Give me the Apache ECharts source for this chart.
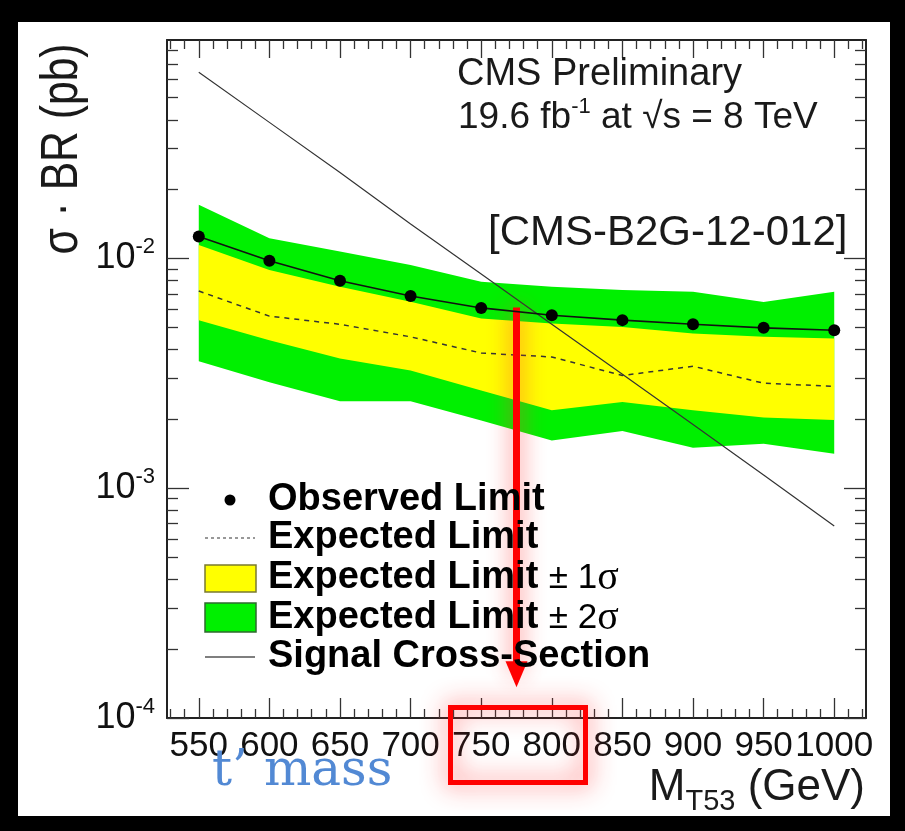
<!DOCTYPE html>
<html><head><meta charset="utf-8">
<script src="https://cdn.jsdelivr.net/npm/echarts@6/dist/echarts.min.js"></script>
<style>
html,body{margin:0;padding:0;background:#000;}
#chart{width:905px;height:831px;position:relative;background:#fff;
box-shadow: inset 18px 22px 0 0 #000, inset -15px -15px 0 0 #000;}
</style></head><body><div id="chart"></div>
<script>
// ---- data ----
const masses   = [550, 600, 650, 700, 750, 800, 850, 900, 950, 1000];
const observed = [0.01242, 0.00976, 0.00798, 0.00685, 0.00608, 0.00565, 0.00538, 0.00516, 0.00498, 0.00486];
const expected = [0.0072, 0.0056, 0.00516, 0.00455, 0.00387, 0.00372, 0.00309, 0.00339, 0.00286, 0.00277];
const plus1    = [0.01143, 0.00889, 0.00752, 0.00646, 0.00547, 0.0052, 0.00502, 0.0047, 0.00455, 0.00448];
const minus1   = [0.00538, 0.0044, 0.00366, 0.00325, 0.00266, 0.00218, 0.00237, 0.00218, 0.00203, 0.00198];
const plus2    = [0.0171, 0.01223, 0.01069, 0.00935, 0.00791, 0.00751, 0.00727, 0.00715, 0.00645, 0.00715];
const minus2   = [0.00356, 0.00289, 0.00239, 0.00239, 0.00197, 0.00161, 0.00177, 0.0015, 0.00156, 0.00141];
const signal   = [0.0644, 0.0390, 0.0236, 0.0141, 0.00854, 0.00516, 0.00313, 0.00189, 0.00114, 0.000684];

// axis ticks / labels
const xMin = 527.5, xMax = 1022.5;
const xMajor = [550, 600, 650, 700, 750, 800, 850, 900, 950, 1000];
const xMinor = [530, 540, 560, 570, 580, 590, 610, 620, 630, 640, 660, 670, 680, 690, 710, 720, 730, 740,
                760, 770, 780, 790, 810, 820, 830, 840, 860, 870, 880, 890, 910, 920, 930, 940, 960, 970, 980, 990, 1010, 1020];
const yMin = 1e-4, yMax = 0.089;
const yMajor = [1e-4, 1e-3, 1e-2];
const yMinor = [2e-4, 3e-4, 4e-4, 5e-4, 6e-4, 7e-4, 8e-4, 9e-4,
                2e-3, 3e-3, 4e-3, 5e-3, 6e-3, 7e-3, 8e-3, 9e-3,
                2e-2, 3e-2, 4e-2, 5e-2, 6e-2, 7e-2, 8e-2];

// annotation arrow (data coords)
const arrowMass = 775, arrowTop = 0.0061, arrowBottom = 1.55e-4;

const FONT = '"Liberation Sans", Arial, Helvetica, sans-serif';
const FRAME = '#222';

function xAx(pos, showLine, ticks, len, labels) {
  return {
    type: 'value', min: xMin, max: xMax, position: pos, gridIndex: 0,
    splitLine: {show: false},
    axisLine: {show: showLine, onZero: false, lineStyle: {color: FRAME, width: 2}},
    axisTick: {show: true, inside: true, length: len, customValues: ticks, lineStyle: {color: '#333', width: 1.3}},
    axisLabel: labels ? {show: true, customValues: xMajor, interval: 0, hideOverlap: false, showMinLabel: true, showMaxLabel: true,
                         formatter: v => String(Math.round(v)),
                         fontSize: 35, color: '#111', margin: 11, fontFamily: FONT} : {show: false}
  };
}
function yAx(pos, showLine, ticks, len, labels) {
  return {
    type: 'log', logBase: 10, min: yMin, max: yMax, position: pos, gridIndex: 0,
    splitLine: {show: false},
    axisLine: {show: showLine, onZero: false, lineStyle: {color: FRAME, width: 2}},
    axisTick: {show: true, inside: true, length: len, customValues: ticks, lineStyle: {color: '#333', width: 1.3}},
    axisLabel: labels ? {
      show: true, customValues: yMajor, margin: 12, hideOverlap: false,
      formatter: v => '{b|10}{s|' + Math.round(Math.log10(v)) + '}',
      rich: {
        b: {fontSize: 36, fontFamily: FONT, color: '#111', lineHeight: 44},
        s: {fontSize: 22, fontFamily: FONT, color: '#111', verticalAlign: 'top', lineHeight: 22}
      }
    } : {show: false}
  };
}

function bandRender(upper, lower, color) {
  return function (params, api) {
    const pts = [];
    for (let i = 0; i < masses.length; i++) pts.push(api.coord([masses[i], upper[i]]));
    for (let i = masses.length - 1; i >= 0; i--) pts.push(api.coord([masses[i], lower[i]]));
    return {type: 'polygon', shape: {points: pts}, style: {fill: color, stroke: null}};
  };
}

const chart = echarts.init(document.getElementById('chart'), null, {renderer: 'canvas'});

const legX = 205, legTextX = 268;
const legRows = [500, 538, 578, 618, 657];
const LEGF = 38;

const option = {
  animation: false,
  grid: {left: 167, right: 39, top: 40, bottom: 113, containLabel: false, outerBoundsMode: 'none'},
  xAxis: [
    xAx('bottom', true, xMajor, 20, true),
    xAx('bottom', false, xMinor, 9, false),
    xAx('top', true, xMajor, 18, false),
    xAx('top', false, xMinor, 9, false)
  ],
  yAxis: [
    yAx('left', true, yMajor, 22, true),
    yAx('left', false, yMinor, 11, false),
    yAx('right', true, yMajor, 22, false),
    yAx('right', false, yMinor, 11, false)
  ],
  series: [
    {type: 'custom', name: 'Expected Limit ± 2σ', xAxisIndex: 0, yAxisIndex: 0, z: 1,
     renderItem: bandRender(plus2, minus2, '#00f000'), data: [[masses[0], plus2[0]]], silent: true},
    {type: 'custom', name: 'Expected Limit ± 1σ', xAxisIndex: 0, yAxisIndex: 0, z: 2,
     renderItem: bandRender(plus1, minus1, '#ffff00'), data: [[masses[0], plus1[0]]], silent: true},
    {type: 'line', name: 'Expected Limit', xAxisIndex: 0, yAxisIndex: 0, z: 3,
     data: masses.map((m, i) => [m, expected[i]]), showSymbol: false, symbol: 'none',
     lineStyle: {color: '#333', width: 1.5, type: [5, 5]}},
    {type: 'line', name: 'Signal Cross-Section', xAxisIndex: 0, yAxisIndex: 0, z: 4,
     data: masses.map((m, i) => [m, signal[i]]), symbol: 'none',
     lineStyle: {color: '#333', width: 1.2}},
    {type: 'line', name: 'Observed Limit', xAxisIndex: 0, yAxisIndex: 0, z: 5,
     data: masses.map((m, i) => [m, observed[i]]), symbol: 'circle', symbolSize: 12,
     itemStyle: {color: '#000'}, lineStyle: {color: '#111', width: 1.6},
     markLine: {
       silent: true, symbol: ['none', 'triangle'], symbolSize: [22, 26], animation: false,
       label: {show: false},
       lineStyle: {color: '#ff0000', width: 7, type: 'solid', shadowBlur: 22, shadowColor: 'rgba(255,60,60,0.85)'},
       emphasis: {disabled: true},
       data: [[{coord: [arrowMass, arrowTop]}, {coord: [arrowMass, arrowBottom]}]]
     }}
  ],
  graphic: [
    // titles
    {type: 'text', x: 457, y: 75, z: 50, style: {text: 'CMS Preliminary', fontSize: 38, fontFamily: FONT, fill: '#1a1a1a', align: 'left', verticalAlign: 'middle'}},
    {type: 'text', x: 458, y: 118, z: 50, style: {
      text: '{a|19.6 fb}{s|-1}{a| at √s = 8 TeV}', align: 'left', verticalAlign: 'middle',
      rich: {a: {fontSize: 37, fontFamily: FONT, fill: '#1a1a1a', lineHeight: 44},
             s: {fontSize: 22, fontFamily: FONT, fill: '#1a1a1a', verticalAlign: 'top', lineHeight: 22}}}},
    {type: 'text', x: 488, y: 233, z: 50, style: {text: '[CMS-B2G-12-012]', fontSize: 42, fontFamily: FONT, fill: '#1a1a1a', align: 'left', verticalAlign: 'middle'}},
    // y axis title
    {type: 'text', x: 63, y: 149, rotation: Math.PI / 2, scaleX: 0.82, z: 50, style: {
      text: 'σ · BR (pb)', fontSize: 52, fontFamily: FONT, fill: '#1a1a1a', align: 'center', verticalAlign: 'middle'}},
    // x axis title
    {type: 'text', x: 865, y: 788, z: 50, style: {
      text: '{m|M}{sub|T53}{g| (GeV)}', align: 'right', verticalAlign: 'middle',
      rich: {m: {fontSize: 44, fontFamily: FONT, fill: '#1a1a1a', lineHeight: 56},
             sub: {fontSize: 29, fontFamily: FONT, fill: '#1a1a1a', verticalAlign: 'bottom', lineHeight: 29},
             g: {fontSize: 44, fontFamily: FONT, fill: '#1a1a1a', lineHeight: 56}}}},
    // t' mass
    {type: 'text', x: 212, y: 772, z: 50, style: {text: 't’ mass', fontSize: 50, fontFamily: '"DejaVu Serif", "Liberation Serif", serif', fill: '#5289d4', align: 'left', verticalAlign: 'middle'}},
    // legend
    {type: 'circle', z: 50, shape: {cx: 230, cy: legRows[0], r: 5.5}, style: {fill: '#000'}},
    {type: 'line', z: 50, shape: {x1: legX, y1: legRows[1], x2: legX + 50, y2: legRows[1]}, style: {stroke: '#333', lineWidth: 1.2, lineDash: [3, 3]}},
    {type: 'rect', z: 50, shape: {x: legX, y: 565, width: 51, height: 27}, style: {fill: '#ffff00', stroke: '#7a7a30', lineWidth: 1.5}},
    {type: 'rect', z: 50, shape: {x: legX, y: 603, width: 51, height: 29}, style: {fill: '#00f000', stroke: '#2f6a2f', lineWidth: 1.5}},
    {type: 'line', z: 50, shape: {x1: legX, y1: legRows[4], x2: legX + 50, y2: legRows[4]}, style: {stroke: '#555', lineWidth: 1.5}},
    {type: 'text', x: legTextX, y: legRows[0], z: 50, style: {text: 'Observed Limit', fontSize: LEGF, fontWeight: 'bold', fontFamily: FONT, fill: '#000', align: 'left', verticalAlign: 'middle'}},
    {type: 'text', x: legTextX, y: legRows[1], z: 50, style: {text: 'Expected Limit', fontSize: LEGF, fontWeight: 'bold', fontFamily: FONT, fill: '#000', align: 'left', verticalAlign: 'middle'}},
    {type: 'text', x: legTextX, y: legRows[2], z: 50, style: {
      text: '{b|Expected Limit }{n|± 1}{g|σ}', align: 'left', verticalAlign: 'middle',
      rich: {b: {fontSize: LEGF, fontWeight: 'bold', fontFamily: FONT, fill: '#000'},
             n: {fontSize: 35, fontFamily: FONT, fill: '#000'},
             g: {fontSize: 40, fontFamily: '"Liberation Serif", serif', fill: '#000'}}}},
    {type: 'text', x: legTextX, y: legRows[3], z: 50, style: {
      text: '{b|Expected Limit }{n|± 2}{g|σ}', align: 'left', verticalAlign: 'middle',
      rich: {b: {fontSize: LEGF, fontWeight: 'bold', fontFamily: FONT, fill: '#000'},
             n: {fontSize: 35, fontFamily: FONT, fill: '#000'},
             g: {fontSize: 40, fontFamily: '"Liberation Serif", serif', fill: '#000'}}}},
    {type: 'text', x: legTextX, y: legRows[4], z: 50, style: {text: 'Signal Cross-Section', fontSize: LEGF, fontWeight: 'bold', fontFamily: FONT, fill: '#000', align: 'left', verticalAlign: 'middle'}},
    // red highlight box
    {type: 'rect', z: 60, shape: {x: 450.5, y: 707.5, width: 135, height: 75}, style: {fill: 'none', stroke: '#ff0000', lineWidth: 5, shadowBlur: 24, shadowColor: 'rgba(255,40,40,0.9)'}}
  ]
};
chart.setOption(option);
</script></body></html>
